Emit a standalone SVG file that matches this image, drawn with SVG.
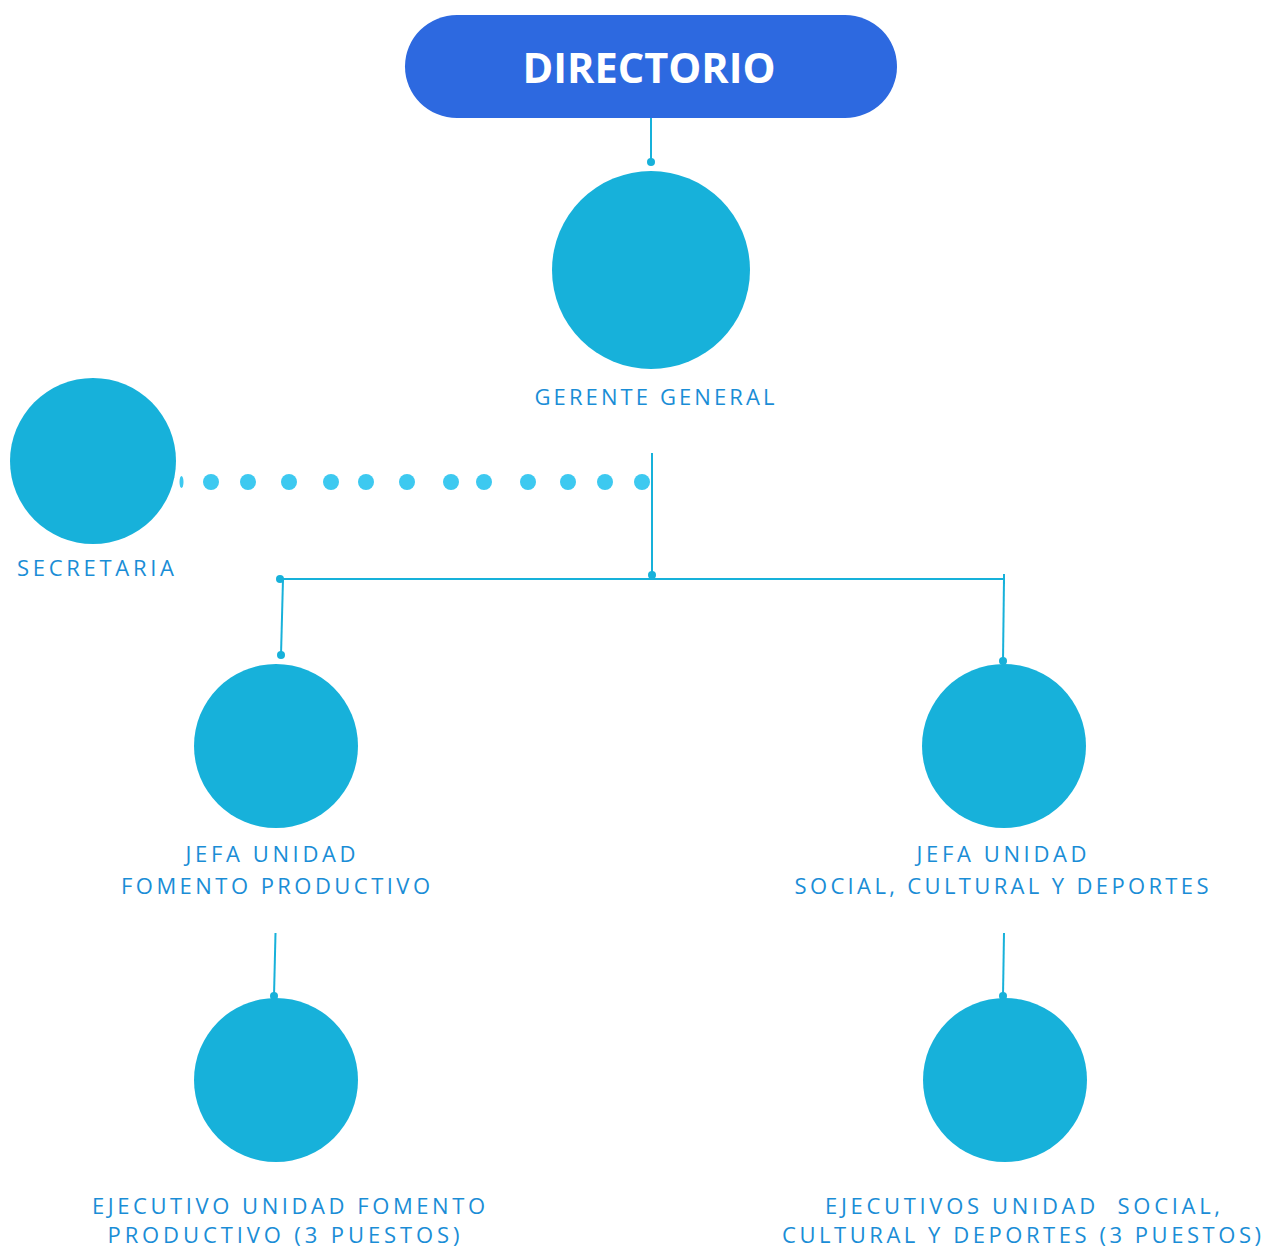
<svg xmlns="http://www.w3.org/2000/svg" width="1266" height="1248" viewBox="0 0 1266 1248">
<style>
.c{fill:#17B1DA}
.l{stroke:#17B1DA;stroke-width:2;fill:none}
.d{fill:#17B1DA}
.s{fill:#3DC9F0}
.t{font-family:"Open Sans","Noto Sans",sans-serif;font-size:22px;fill:#1A8DD6;text-anchor:middle;letter-spacing:3px}
.h{font-family:"Open Sans","Noto Sans",sans-serif;font-size:42px;font-weight:bold;fill:#FFFFFF;text-anchor:middle}
</style>
<rect width="1266" height="1248" fill="#FFFFFF"/>
<g id="connectors">
<line class="l" x1="651" y1="118" x2="651" y2="162"/>
<circle class="d" cx="651" cy="162" r="4"/>
<line class="l" x1="652" y1="453" x2="652" y2="575"/>
<circle class="d" cx="652" cy="575" r="4"/>
<line class="l" x1="280" y1="579" x2="1004" y2="579"/>
<circle class="d" cx="280" cy="579" r="4"/>
<line class="l" x1="1004" y1="574" x2="1004" y2="584"/>
<line class="l" x1="283" y1="579" x2="281" y2="655"/>
<circle class="d" cx="281" cy="655" r="4"/>
<line class="l" x1="1004" y1="579" x2="1003" y2="661"/>
<circle class="d" cx="1003" cy="661" r="4"/>
<line class="l" x1="275.5" y1="933" x2="274" y2="996"/>
<circle class="d" cx="274" cy="996" r="4"/>
<line class="l" x1="1004" y1="933" x2="1003" y2="996"/>
<circle class="d" cx="1003" cy="996" r="4"/>
<g id="dotted">
<ellipse class="s" cx="181.5" cy="482" rx="2" ry="6"/>
<circle class="s" cx="211" cy="482" r="8"/>
<circle class="s" cx="248" cy="482" r="8"/>
<circle class="s" cx="289" cy="482" r="8"/>
<circle class="s" cx="331" cy="482" r="8"/>
<circle class="s" cx="366" cy="482" r="8"/>
<circle class="s" cx="407" cy="482" r="8"/>
<circle class="s" cx="451" cy="482" r="8"/>
<circle class="s" cx="484" cy="482" r="8"/>
<circle class="s" cx="528" cy="482" r="8"/>
<circle class="s" cx="568" cy="482" r="8"/>
<circle class="s" cx="605" cy="482" r="8"/>
<circle class="s" cx="642" cy="482" r="8"/>
</g>
</g>
<g id="directorio">
<rect x="405" y="15" width="492" height="103" rx="52" fill="#2D69E0"/>
<text class="h" x="649" y="83" textLength="253" lengthAdjust="spacingAndGlyphs">DIRECTORIO</text>
</g>
<g id="gerente">
<circle class="c" cx="651" cy="270" r="99"/>
<text class="t" x="656" y="405" textLength="243" lengthAdjust="spacing">GERENTE GENERAL</text>
</g>
<g id="secretaria">
<circle class="c" cx="93" cy="461" r="83"/>
<text class="t" x="97" y="576" textLength="160" lengthAdjust="spacing">SECRETARIA</text>
</g>
<g id="jefa-fomento">
<circle class="c" cx="276" cy="746" r="82"/>
<text class="t" x="272" y="862" textLength="173" lengthAdjust="spacing">JEFA UNIDAD</text>
<text class="t" x="277" y="894" textLength="312" lengthAdjust="spacing">FOMENTO PRODUCTIVO</text>
</g>
<g id="jefa-social">
<circle class="c" cx="1004" cy="746" r="82"/>
<text class="t" x="1003" y="862" textLength="173" lengthAdjust="spacing">JEFA UNIDAD</text>
<text class="t" x="1003" y="894" textLength="417" lengthAdjust="spacing">SOCIAL, CULTURAL Y DEPORTES</text>
</g>
<g id="ejecutivo-fomento">
<circle class="c" cx="276" cy="1080" r="82"/>
<text class="t" x="290" y="1214" textLength="396" lengthAdjust="spacing">EJECUTIVO UNIDAD FOMENTO</text>
<text class="t" x="285" y="1243" textLength="355" lengthAdjust="spacing">PRODUCTIVO (3 PUESTOS)</text>
</g>
<g id="ejecutivo-social">
<circle class="c" cx="1005" cy="1080" r="82"/>
<text class="t" x="1024" y="1214" textLength="398" lengthAdjust="spacing" xml:space="preserve">EJECUTIVOS UNIDAD  SOCIAL,</text>
<text class="t" x="1023" y="1243" textLength="482" lengthAdjust="spacing">CULTURAL Y DEPORTES (3 PUESTOS)</text>
</g>
</svg>
